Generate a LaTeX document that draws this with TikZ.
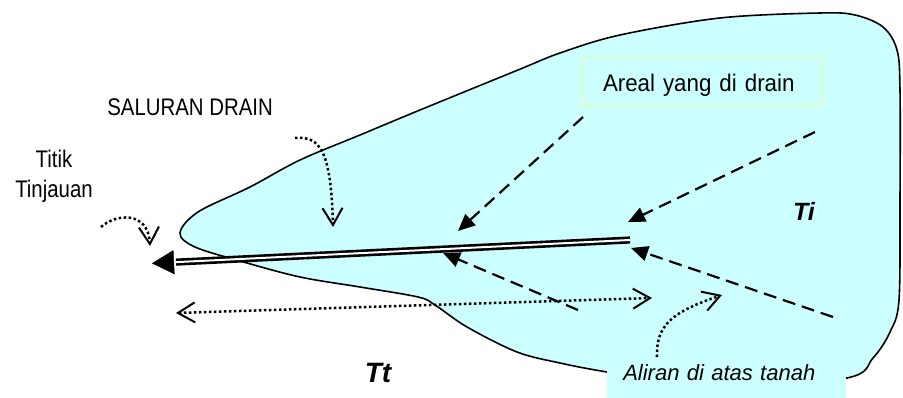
\documentclass[tikz,border=0pt]{standalone}
\usepackage{fontspec}
\setmainfont{Liberation Sans}
\newfontfamily\narrowsans{Liberation Sans}[FakeStretch=0.85]
\newfontfamily\boxsans{Liberation Sans}[FakeStretch=0.93]
\usetikzlibrary{arrows.meta,calc}
\definecolor{areacyan}{RGB}{204,255,255}
\definecolor{boxgreen}{RGB}{222,255,206}

\begin{document}
\begin{tikzpicture}[x=1pt,y=-1pt,
  >={Straight Barb[length=17pt,width=20pt,line width=2pt]},
  runoff/.style={line width=2.2pt,dash pattern=on 13pt off 7pt,-{Triangle[length=17pt,width=15pt]}},
  pointer/.style={line width=2.5pt,dash pattern=on 2.5pt off 2.5pt},
  lbl/.style={font=\narrowsans\fontsize{24}{30}\selectfont,inner sep=0pt}]
  \useasboundingbox (0,0) rectangle (903,398);

  % Drained area
  \draw[fill=areacyan,line width=1.6pt] plot[smooth cycle,tension=0.55] coordinates {
    (180,233) (198,212) (250,187) (300,160) (360,135) (420,110) (518,70) (560,53)
    (620,35) (720,18) (820,13) (855,15) (883,27) (897,50) (900,90) (900,200)
    (899,300) (890,332) (873,358) (847,378) (720,390) (607,372) (560,363)
    (517,352) (467,327) (435,305) (418,297) (360,287) (300,277) (240,261) (195,247)};

  \node[lbl,font=\boxsans\fontsize{24}{30}\selectfont,draw=boxgreen,line width=1.5pt,
    minimum height=48pt,text width=198pt,inner xsep=21pt,align=left,
    text height=21pt,text depth=0pt] (areal) at (702,81) {Areal yang di drain};

  % Drain channel towards the outlet
  \coordinate (drainR) at (630,240);
  \coordinate (outlet) at (152,263.3);
  \coordinate (drainL) at ($(outlet)!22pt!(drainR)$);
  \draw[line width=2.6pt,double distance=2pt] (drainR) -- ($(drainL)!-2pt!(outlet)$);
  \draw[-{Triangle[length=22pt,width=24pt]}] (drainL) -- (outlet);

  % Overland flow into the drain
  \coordinate (tailNW) at (583,117);
  \coordinate (headNW) at (458,231);
  \coordinate (tailNE) at (815,132);
  \coordinate (headNE) at (628,222);
  \coordinate (tailSW) at (578,310);
  \coordinate (headSW) at (443,253);
  \coordinate (tailSE) at (833,317);
  \coordinate (headSE) at (631,248);
  \draw[runoff] (tailNW) -- (headNW);
  \draw[runoff] (tailNE) -- (headNE);
  \draw[runoff] (tailSW) -- (headSW);
  \draw[runoff] (tailSE) -- (headSE);

  % Labels
  \node[lbl,anchor=base east] (saluran) at (273,115.7) {SALURAN DRAIN};
  \node[lbl,align=center,anchor=base] (titik) at (54,197.3) {Titik\\Tinjauan};
  \node[font=\itshape\fontsize{22}{26}\selectfont,fill=areacyan,text width=206pt,
    align=left,inner xsep=16.6pt,inner ysep=5pt,text height=16pt,text depth=12pt]
    (aliran) at (726.3,378.7) {Aliran di atas tanah};
  \node[font=\bfseries\itshape\fontsize{28}{32}\selectfont,inner sep=0pt] (tt) at (378,373) {Tt};
  \node[font=\bfseries\itshape\fontsize{25}{30}\selectfont,inner sep=0pt] (ti) at (804,211.7) {Ti};

  % Pointers
  \coordinate (saluranS) at (295,138);
  \coordinate (saluranE) at (333,227);
  \draw[pointer,->] (saluranS) .. controls (320,136) and (331,150) .. (saluranE);
  \coordinate (titikS) at (101,227);
  \coordinate (titikE) at (150,246);
  \draw[pointer,->] (titikS) .. controls (115,214) and (148,210) .. (titikE);
  \coordinate (lenL) at (176,313);
  \coordinate (lenR) at (652,298);
  \draw[pointer,<->] (lenL) -- (lenR);
  \coordinate (aliranS) at (657,357);
  \coordinate (aliranE) at (722,295);
  \draw[pointer,->] (aliranS) .. controls (656,325) and (672,312) .. (aliranE);
\end{tikzpicture}
\end{document}
